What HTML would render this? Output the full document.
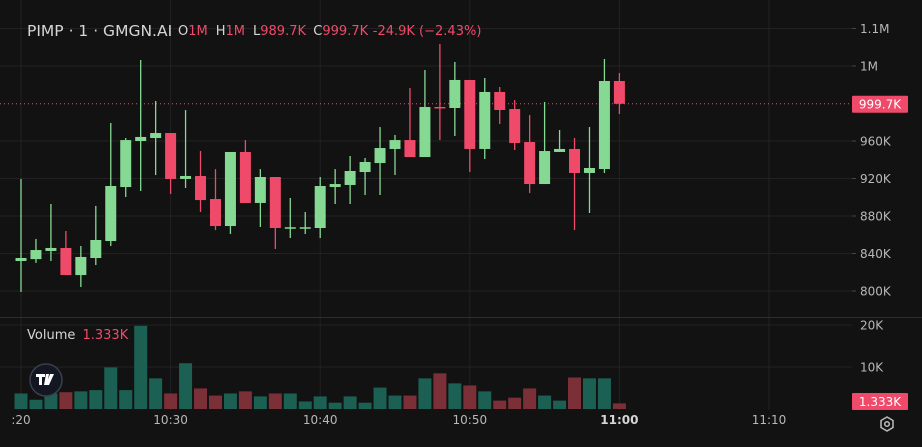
<!DOCTYPE html>
<html><head><meta charset="utf-8"><style>
html,body{margin:0;padding:0;background:#121212;}
body{width:922px;height:442px;overflow:hidden;font-family:"Liberation Sans","DejaVu Sans",sans-serif;}
svg text{font-family:"DejaVu Sans","Liberation Sans",sans-serif;}
</style></head><body>
<svg id="chart" width="922" height="442" xmlns="http://www.w3.org/2000/svg">
<rect x="0" y="0" width="922" height="442" fill="#121212"/>
<g id="grid"></g>
<g id="vol"></g>
<g id="candles"></g>
<g id="axes"></g>
<g>
<text x="27" y="36" font-size="15.5" fill="#d6d6d6">PIMP · 1 · GMGN.AI</text>
<text x="178" y="35" font-size="13"><tspan fill="#d6d6d6">O</tspan><tspan fill="#f04a6a">1M</tspan><tspan fill="#d6d6d6" dx="8">H</tspan><tspan fill="#f04a6a">1M</tspan><tspan fill="#d6d6d6" dx="8">L</tspan><tspan fill="#f04a6a">989.7K</tspan><tspan fill="#d6d6d6" dx="8">C</tspan><tspan fill="#f04a6a">999.7K</tspan><tspan fill="#f04a6a" dx="6">-24.9K (−2.43%)</tspan></text>
<text x="27" y="339" font-size="13" fill="#d6d6d6">Volume <tspan fill="#f04a6a" dx="3">1.333K</tspan></text>
</g>
<g>
<circle cx="46" cy="380" r="16" fill="#131722" stroke="#3a3f4c" stroke-width="1.5"/>
<path d="M36 374h9v3h-3v8h-3v-8h-3z M46 374h3l-2 11h-3z M50 374h4l-5 11h-3z" fill="#fff"/>
</g>
<g transform="translate(887,424)">
<polygon points="0,-7 6,-3.5 6,3.5 0,7 -6,3.5 -6,-3.5" fill="none" stroke="#bbb" stroke-width="1.5"/>
<circle r="2.3" fill="none" stroke="#bbb" stroke-width="1.5"/>
</g>
</svg>
<script>
const opens  = [832,834,842.7,845.9,817,835.2,853.3,910.9,960,963.2,968.5,919.5,922.7,898.1,869.3,948.3,893.9,921.6,867.2,867.2,867.2,910.9,913.1,926.9,936.5,951.5,961,942.9,996.3,995.2,1025.1,951.5,1012.3,994.1,958.9,914.1,948.3,951.5,925.9,930.1,1024];
const closes = [835.2,843.7,845.9,817,836.3,854.4,912,961,964.3,968.5,919.5,922.7,897,869.3,948.3,893.9,921.6,867.2,868,868,912,914.1,928,937.6,952.5,961,942.9,996.3,995.2,1025.1,951.5,1012.3,993.1,957.9,914.1,949.3,951.5,925.9,931.2,1024,999.7];
const highs  = [919.5,855.5,892.8,864,848,890.7,979.2,963.2,1046.4,1002.7,968.5,993,949.3,930,948.3,961,930,921.6,899.2,884.3,921.6,930,944,941.9,974.9,966.4,1016.5,1035.7,1063.5,1044.3,1025.1,1027.2,1017.6,1003.7,987.7,1001.6,971.7,963.2,974.9,1047.5,1032.5];
const lows   = [799,830,832,817,804.3,827.7,848,900.3,906.7,923.7,903.5,909.9,884.3,865,860.8,893.9,868.3,844.8,856.5,860.8,856.5,892.8,892.8,902.4,902.4,923.7,942.9,942.9,961,965.3,926.9,940.8,978.1,950.4,904.5,914.1,948.3,865,883.2,925.9,988.8];
const volumes= [3.7,2.2,3.7,4.0,4.2,4.5,9.9,4.5,19.8,7.3,3.7,10.9,4.9,3.2,3.7,4.2,3.0,3.7,3.7,1.8,3.0,1.5,3.0,1.5,5.1,3.2,3.2,7.3,8.5,6.1,5.6,4.2,2.0,2.7,4.9,3.2,2.0,7.5,7.3,7.3,1.333];
const priceTicks=[1080,1040,960,920,880,840,800];
const priceTickLabels=["1.1M","1M","960K","920K","880K","840K","800K"];
const volTicks=[20,10];
const volTickLabels=["20K","10K"];
const timeIdx=[0,10,20,30,40,50];
const timeLabels=[":20","10:30","10:40","10:50","11:00","11:10"];
const lastPrice=999.7, lastPriceLabel="999.7K", lastVolLabel="1.333K";

const NS="http://www.w3.org/2000/svg";
const X=i=>21+i*14.96;
const Y=v=>141-(v-960)*0.9375;
const VY=v=>409-v*4.2;
function mk(tag,attrs,parent){const e=document.createElementNS(NS,tag);for(const k in attrs)e.setAttribute(k,attrs[k]);parent.appendChild(e);return e;}
const grid=document.getElementById('grid'),axes=document.getElementById('axes'),cg=document.getElementById('candles'),vg=document.getElementById('vol');
priceTicks.forEach((t,i)=>{
  const l=mk('line',{x1:0,x2:852,y1:Y(t),y2:Y(t),stroke:'#222224','stroke-width':1},grid);
  
  
  const tk=mk('line',{x1:852,x2:856,y1:Y(t),y2:Y(t),stroke:'#444','stroke-width':1},axes);
  
  
  const tx=mk('text',{x:860,y:Y(t)+4.5,'font-size':12,fill:'#b8b8b8'},axes);
  tx.textContent=priceTickLabels[i];
  
  
});
volTicks.forEach((t,i)=>{
  const l=mk('line',{x1:0,x2:852,y1:VY(t),y2:VY(t),stroke:'#222224','stroke-width':1},grid);
  
  
  const tx=mk('text',{x:860,y:VY(t)+4.5,'font-size':12,fill:'#b8b8b8'},axes);
  tx.textContent=volTickLabels[i];
  
  
});
timeIdx.forEach((ti,i)=>{
  const l=mk('line',{x1:X(ti),x2:X(ti),y1:0,y2:410,stroke:'#222224','stroke-width':1},grid);
  
  
  const tx=mk('text',{x:X(ti),y:424,'font-size':12,fill:i==4?'#d6d6d6':'#b8b8b8','text-anchor':'middle','font-weight':i==4?'bold':'normal'},axes);
  tx.textContent=timeLabels[i];
  
  
});
const sep=mk('line',{x1:0,x2:922,y1:317.5,y2:317.5,stroke:'#2e2e30','stroke-width':1},axes);


volumes.forEach((v,i)=>{
  const up=closes[i]>=opens[i];
  const r=mk('rect',{x:X(i)-6.5,y:VY(v),width:13,height:409-VY(v),fill:up?'#1c5f53':'#7a3036'},vg);
  
  
});
const pl=mk('line',{x1:0,x2:852,y1:Y(lastPrice),y2:Y(lastPrice),stroke:'#f04a6a','stroke-width':1,'stroke-dasharray':'1 3'},cg);


opens.forEach((o,i)=>{
  const c=closes[i],up=c>=o,col=up?'#86d993':'#f04a6a';
  const w=mk('line',{x1:X(i),x2:X(i),y1:Y(highs[i]),y2:Y(lows[i]),stroke:col,'stroke-width':1.3},cg);
  
  
  const top=Math.min(Y(o),Y(c)),h=Math.max(1.5,Math.abs(Y(o)-Y(c)));
  const b=mk('rect',{x:X(i)-5.5,y:top,width:11,height:h,fill:col},cg);
  
  
});
const pb=mk('rect',{x:852,y:Y(lastPrice)-8,width:56,height:17,fill:'#f04a6a',rx:1},axes);


const pt=mk('text',{x:880,y:Y(lastPrice)+4.5,'font-size':12,fill:'#fff','text-anchor':'middle'},axes);
pt.textContent=lastPriceLabel;


const vb=mk('rect',{x:852,y:393,width:56,height:17,fill:'#f04a6a',rx:1},axes);


const vt=mk('text',{x:880,y:406,'font-size':12,fill:'#fff','text-anchor':'middle'},axes);
vt.textContent=lastVolLabel;


</script>
</body></html>
